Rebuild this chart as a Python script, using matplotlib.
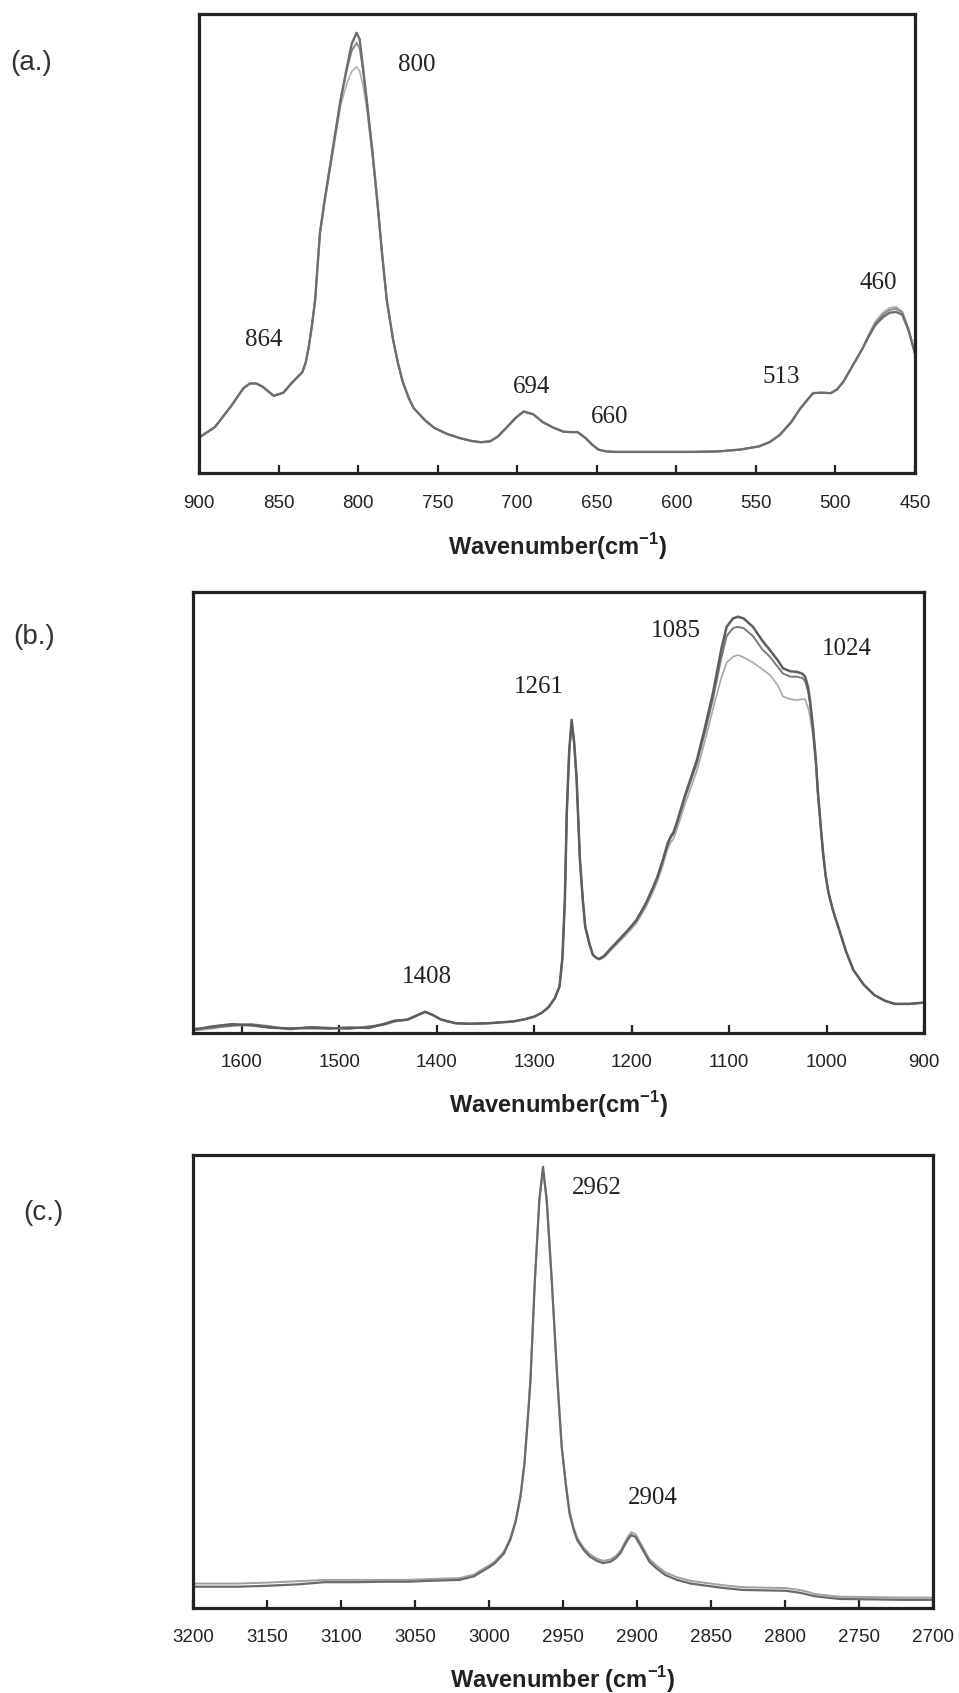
import matplotlib
matplotlib.use("Agg")
import matplotlib.pyplot as plt

# ---- panel (a): 900-450 cm-1 ----
a_wn = [900, 890, 880, 872, 868, 864, 860, 853, 847, 842, 835, 833, 831, 829, 827, 825.5, 824,
        821, 816, 811, 807, 804, 801, 799, 797, 794.6, 791, 788, 785, 782, 778, 775, 772, 768,
        765, 758, 752, 744, 736, 729, 723, 717, 712, 707, 701, 696, 690, 684, 678, 671, 666,
        662, 657, 653, 649, 644, 639, 625, 607, 590, 574, 560, 548, 541, 535, 528, 522, 517,
        514, 509, 503, 499, 495, 489, 483, 479, 475, 470, 466, 462, 458, 454, 450]
a_y1 = [0.077, 0.100, 0.145, 0.185, 0.195, 0.195, 0.188, 0.168, 0.175, 0.195, 0.220, 0.240,
        0.275, 0.322, 0.377, 0.450, 0.523, 0.595, 0.704, 0.813, 0.885, 0.935, 0.959, 0.945,
        0.885, 0.813, 0.700, 0.595, 0.480, 0.377, 0.290, 0.240, 0.199, 0.162, 0.141, 0.115,
        0.098, 0.085, 0.076, 0.070, 0.067, 0.069, 0.080, 0.098, 0.120, 0.134, 0.128, 0.111,
        0.100, 0.090, 0.089, 0.089, 0.076, 0.062, 0.051, 0.047, 0.046, 0.046, 0.046, 0.046,
        0.047, 0.051, 0.058, 0.068, 0.083, 0.110, 0.141, 0.162, 0.174, 0.175, 0.174, 0.182,
        0.199, 0.235, 0.271, 0.298, 0.322, 0.340, 0.349, 0.351, 0.345, 0.310, 0.260]
a_y2 = [0.077, 0.100, 0.145, 0.185, 0.195, 0.195, 0.188, 0.168, 0.175, 0.195, 0.220, 0.240,
        0.275, 0.322, 0.377, 0.450, 0.523, 0.595, 0.704, 0.813, 0.880, 0.920, 0.937, 0.925,
        0.880, 0.810, 0.698, 0.595, 0.480, 0.377, 0.290, 0.240, 0.199, 0.162, 0.141, 0.115,
        0.098, 0.085, 0.076, 0.070, 0.067, 0.069, 0.080, 0.098, 0.120, 0.134, 0.128, 0.111,
        0.100, 0.090, 0.089, 0.089, 0.076, 0.062, 0.051, 0.047, 0.046, 0.046, 0.046, 0.046,
        0.047, 0.051, 0.058, 0.068, 0.083, 0.110, 0.141, 0.162, 0.174, 0.175, 0.174, 0.182,
        0.199, 0.235, 0.271, 0.300, 0.326, 0.346, 0.355, 0.358, 0.350, 0.312, 0.260]
a_y3 = [0.077, 0.100, 0.145, 0.185, 0.195, 0.195, 0.188, 0.168, 0.175, 0.195, 0.220, 0.240,
        0.275, 0.322, 0.377, 0.448, 0.520, 0.590, 0.695, 0.800, 0.850, 0.875, 0.885, 0.875,
        0.845, 0.795, 0.690, 0.590, 0.478, 0.377, 0.290, 0.240, 0.199, 0.162, 0.141, 0.115,
        0.098, 0.085, 0.076, 0.070, 0.067, 0.069, 0.080, 0.098, 0.120, 0.134, 0.128, 0.111,
        0.100, 0.090, 0.089, 0.089, 0.076, 0.062, 0.051, 0.047, 0.046, 0.046, 0.046, 0.046,
        0.047, 0.051, 0.058, 0.068, 0.083, 0.110, 0.141, 0.162, 0.174, 0.175, 0.174, 0.182,
        0.199, 0.235, 0.271, 0.302, 0.330, 0.350, 0.360, 0.362, 0.352, 0.314, 0.260]
a_ticks = [900, 850, 800, 750, 700, 650, 600, 550, 500, 450]
a_peaks = ["864", "800", "694", "660", "513", "460"]

# ---- panel (b): 1650-900 cm-1 ----
b_wn = [1650, 1630, 1610, 1590, 1570, 1550, 1530, 1510, 1490, 1470, 1455, 1443, 1430, 1420,
        1412, 1405, 1396, 1388, 1380, 1365, 1348, 1335, 1322, 1310, 1300, 1292, 1285, 1279,
        1274, 1271, 1268.5, 1266.5, 1264, 1261.5, 1259, 1256.5, 1253, 1250, 1247.6, 1243,
        1239.7, 1236, 1233, 1228, 1222, 1216, 1205, 1195, 1185, 1178, 1173.5, 1168, 1163,
        1160, 1157, 1153.8, 1145, 1133, 1125, 1116.5, 1108, 1102.5, 1096, 1091, 1085, 1075.5,
        1066, 1058, 1050, 1044.7, 1037, 1030.6, 1025, 1022, 1019, 1017, 1014, 1011, 1008.8,
        1006, 1003.6, 1001, 998, 994, 991, 988, 980, 972.5, 962, 951, 940, 930, 915, 900]
b_y1 = [0.007, 0.015, 0.020, 0.018, 0.012, 0.010, 0.012, 0.010, 0.012, 0.012, 0.020, 0.028,
        0.030, 0.040, 0.048, 0.042, 0.031, 0.026, 0.022, 0.021, 0.022, 0.024, 0.026, 0.031,
        0.037, 0.046, 0.059, 0.078, 0.105, 0.170, 0.300, 0.500, 0.640, 0.710, 0.660, 0.580,
        0.392, 0.300, 0.241, 0.200, 0.177, 0.170, 0.168, 0.175, 0.190, 0.204, 0.230, 0.256,
        0.295, 0.330, 0.354, 0.392, 0.430, 0.445, 0.455, 0.476, 0.540, 0.619, 0.690, 0.771,
        0.870, 0.921, 0.940, 0.944, 0.940, 0.921, 0.890, 0.868, 0.845, 0.827, 0.820, 0.819,
        0.815, 0.808, 0.785, 0.755, 0.695, 0.620, 0.544, 0.470, 0.410, 0.358, 0.318, 0.283,
        0.261, 0.241, 0.185, 0.143, 0.110, 0.086, 0.073, 0.066, 0.066, 0.069]
b_y2 = [0.010, 0.012, 0.016, 0.020, 0.015, 0.008, 0.014, 0.012, 0.009, 0.015, 0.018, 0.026,
        0.031, 0.041, 0.048, 0.042, 0.031, 0.026, 0.022, 0.021, 0.022, 0.024, 0.026, 0.031,
        0.037, 0.046, 0.059, 0.078, 0.105, 0.170, 0.300, 0.500, 0.640, 0.705, 0.660, 0.580,
        0.392, 0.300, 0.241, 0.200, 0.177, 0.170, 0.168, 0.175, 0.190, 0.204, 0.230, 0.256,
        0.295, 0.330, 0.354, 0.390, 0.428, 0.442, 0.452, 0.472, 0.535, 0.612, 0.680, 0.758,
        0.850, 0.900, 0.918, 0.921, 0.918, 0.900, 0.870, 0.853, 0.830, 0.815, 0.808, 0.808,
        0.805, 0.798, 0.775, 0.748, 0.690, 0.618, 0.544, 0.470, 0.410, 0.358, 0.318, 0.283,
        0.261, 0.241, 0.185, 0.143, 0.110, 0.086, 0.073, 0.066, 0.066, 0.069]
b_y3 = [0.005, 0.010, 0.018, 0.016, 0.011, 0.012, 0.009, 0.011, 0.013, 0.010, 0.019, 0.027,
        0.030, 0.040, 0.047, 0.042, 0.031, 0.026, 0.022, 0.021, 0.022, 0.024, 0.026, 0.031,
        0.037, 0.046, 0.059, 0.078, 0.105, 0.170, 0.300, 0.500, 0.640, 0.700, 0.655, 0.575,
        0.392, 0.300, 0.241, 0.200, 0.177, 0.170, 0.166, 0.172, 0.186, 0.199, 0.224, 0.249,
        0.287, 0.320, 0.344, 0.380, 0.418, 0.432, 0.440, 0.460, 0.520, 0.595, 0.660, 0.735,
        0.805, 0.840, 0.853, 0.857, 0.852, 0.840, 0.825, 0.812, 0.788, 0.763, 0.757, 0.755,
        0.757, 0.757, 0.738, 0.718, 0.675, 0.608, 0.535, 0.465, 0.408, 0.356, 0.317, 0.282,
        0.260, 0.241, 0.185, 0.143, 0.110, 0.086, 0.073, 0.066, 0.066, 0.069]
b_ticks = [1600, 1500, 1400, 1300, 1200, 1100, 1000, 900]
b_peaks = ["1408", "1261", "1085", "1024"]

# ---- panel (c): 3200-2700 cm-1 ----
c_wn = [3200, 3170, 3150, 3130, 3111, 3090, 3070, 3055, 3040, 3020, 3010, 3006.6, 3000, 2996,
        2990, 2985.7, 2982, 2978.7, 2976, 2973.5, 2972, 2969, 2966, 2963.5, 2961, 2957.6,
        2953.8, 2950.9, 2948, 2945.6, 2943, 2940.4, 2936, 2931.7, 2927, 2923, 2918, 2914.3,
        2911, 2909, 2906, 2903.8, 2901, 2898.6, 2895, 2891.6, 2887, 2881, 2873, 2863.8, 2855,
        2846, 2838, 2829, 2815, 2799.3, 2790.6, 2785, 2780, 2772, 2763, 2740, 2720, 2700]
c_y1 = [0.047, 0.047, 0.049, 0.052, 0.057, 0.057, 0.058, 0.058, 0.060, 0.062, 0.070, 0.077,
        0.090, 0.099, 0.120, 0.150, 0.190, 0.246, 0.320, 0.430, 0.503, 0.724, 0.900, 0.974,
        0.900, 0.724, 0.503, 0.356, 0.270, 0.209, 0.175, 0.150, 0.128, 0.113, 0.104, 0.099,
        0.102, 0.110, 0.122, 0.135, 0.152, 0.161, 0.157, 0.143, 0.122, 0.102, 0.088, 0.073,
        0.062, 0.054, 0.050, 0.046, 0.043, 0.040, 0.039, 0.038, 0.034, 0.030, 0.026, 0.023,
        0.020, 0.019, 0.018, 0.018]
c_y2 = [0.054, 0.054, 0.056, 0.059, 0.062, 0.062, 0.062, 0.062, 0.064, 0.066, 0.074, 0.081,
        0.094, 0.103, 0.124, 0.154, 0.194, 0.250, 0.322, 0.432, 0.503, 0.722, 0.898, 0.970,
        0.898, 0.722, 0.503, 0.358, 0.273, 0.213, 0.180, 0.155, 0.133, 0.118, 0.109, 0.104,
        0.107, 0.115, 0.127, 0.140, 0.158, 0.167, 0.163, 0.149, 0.128, 0.108, 0.094, 0.079,
        0.068, 0.060, 0.056, 0.052, 0.049, 0.046, 0.045, 0.044, 0.040, 0.036, 0.031, 0.028,
        0.025, 0.024, 0.023, 0.023]
c_ticks = [3200, 3150, 3100, 3050, 3000, 2950, 2900, 2850, 2800, 2750, 2700]
c_peaks = ["2962", "2904"]

plt.rcParams['font.family'] = ['Liberation Sans', 'DejaVu Sans']
plt.rcParams['mathtext.fontset'] = 'custom'
plt.rcParams['mathtext.rm'] = 'Liberation Sans'
plt.rcParams['mathtext.bf'] = 'Liberation Sans:bold'

W, H = 959, 1693
fig = plt.figure(figsize=(W / 100, H / 100), dpi=100)


def make_axes(x0, x1, y0, y1):
    # pixel box (left, right, top, bottom) -> figure fraction
    return fig.add_axes([x0 / W, 1 - y1 / H, (x1 - x0) / W, (y1 - y0) / H])


def style(ax, xlim, ticks, label, label_px, pad):
    ax.set_xlim(*xlim)
    ax.set_ylim(0, 1)
    ax.set_xticks(ticks)
    ax.set_yticks([])
    for s in ax.spines.values():
        s.set_linewidth(2.3)
        s.set_color('#222222')
    ax.tick_params(axis='x', direction='in', length=6, width=1.6, color='#222222',
                   labelsize=13.5, pad=pad, labelcolor='#222222')
    ax.set_xlabel(label, fontsize=17, fontweight='bold', color='#222222', va='center')
    h = ax.get_position().height * H
    ax.xaxis.set_label_coords(0.5, -label_px / h)


serif = ['Liberation Serif', 'DejaVu Serif']
pk = dict(fontsize=18, family=serif, color='#222222', ha='center', va='center')
lbl = dict(fontsize=20, color='#333333', ha='left', va='center')

# (a)
ax = make_axes(199, 915, 14, 473)
ax.plot(a_wn, a_y3, color='#b0b0b0', lw=1.2)
ax.plot(a_wn, a_y2, color='#8a8a8a', lw=1.4)
ax.plot(a_wn, a_y1, color='#6e6e6e', lw=1.7)
style(ax, (900, 450), a_ticks, r'Wavenumber(cm$^{\mathbf{-1}}$)', 74, 16)
for t, x, y in zip(a_peaks, [859, 763, 691, 642, 534, 473], [0.289, 0.889, 0.188, 0.123, 0.21, 0.414]):
    ax.text(x, y, t, **pk)
fig.text(10 / W, 1 - 63 / H, '(a.)', **lbl)

# (b)
ax = make_axes(193, 924, 592, 1033)
ax.plot(b_wn, b_y3, color='#a8a8a8', lw=1.2)
ax.plot(b_wn, b_y2, color='#7a7a7a', lw=1.4)
ax.plot(b_wn, b_y1, color='#5e5e5e', lw=1.8)
style(ax, (1650, 900), b_ticks, r'Wavenumber(cm$^{\mathbf{-1}}$)', 72, 15)
for t, x, y in zip(b_peaks, [1410, 1295, 1155, 979], [0.127, 0.784, 0.912, 0.871]):
    ax.text(x, y, t, **pk)
fig.text(13 / W, 1 - 637 / H, '(b.)', **lbl)

# (c)
ax = make_axes(193, 933, 1155, 1608)
ax.plot(c_wn, c_y2, color='#a0a0a0', lw=1.4)
ax.plot(c_wn, c_y1, color='#6a6a6a', lw=1.6)
style(ax, (3200, 2700), c_ticks, r'Wavenumber (cm$^{\mathbf{-1}}$)', 72, 15)
for t, x, y in zip(c_peaks, [2927, 2889], [0.927, 0.242]):
    ax.text(x, y, t, **pk)
fig.text(23 / W, 1 - 1213 / H, '(c.)', **lbl)

fig.savefig('out.png', dpi=100, facecolor='white')
